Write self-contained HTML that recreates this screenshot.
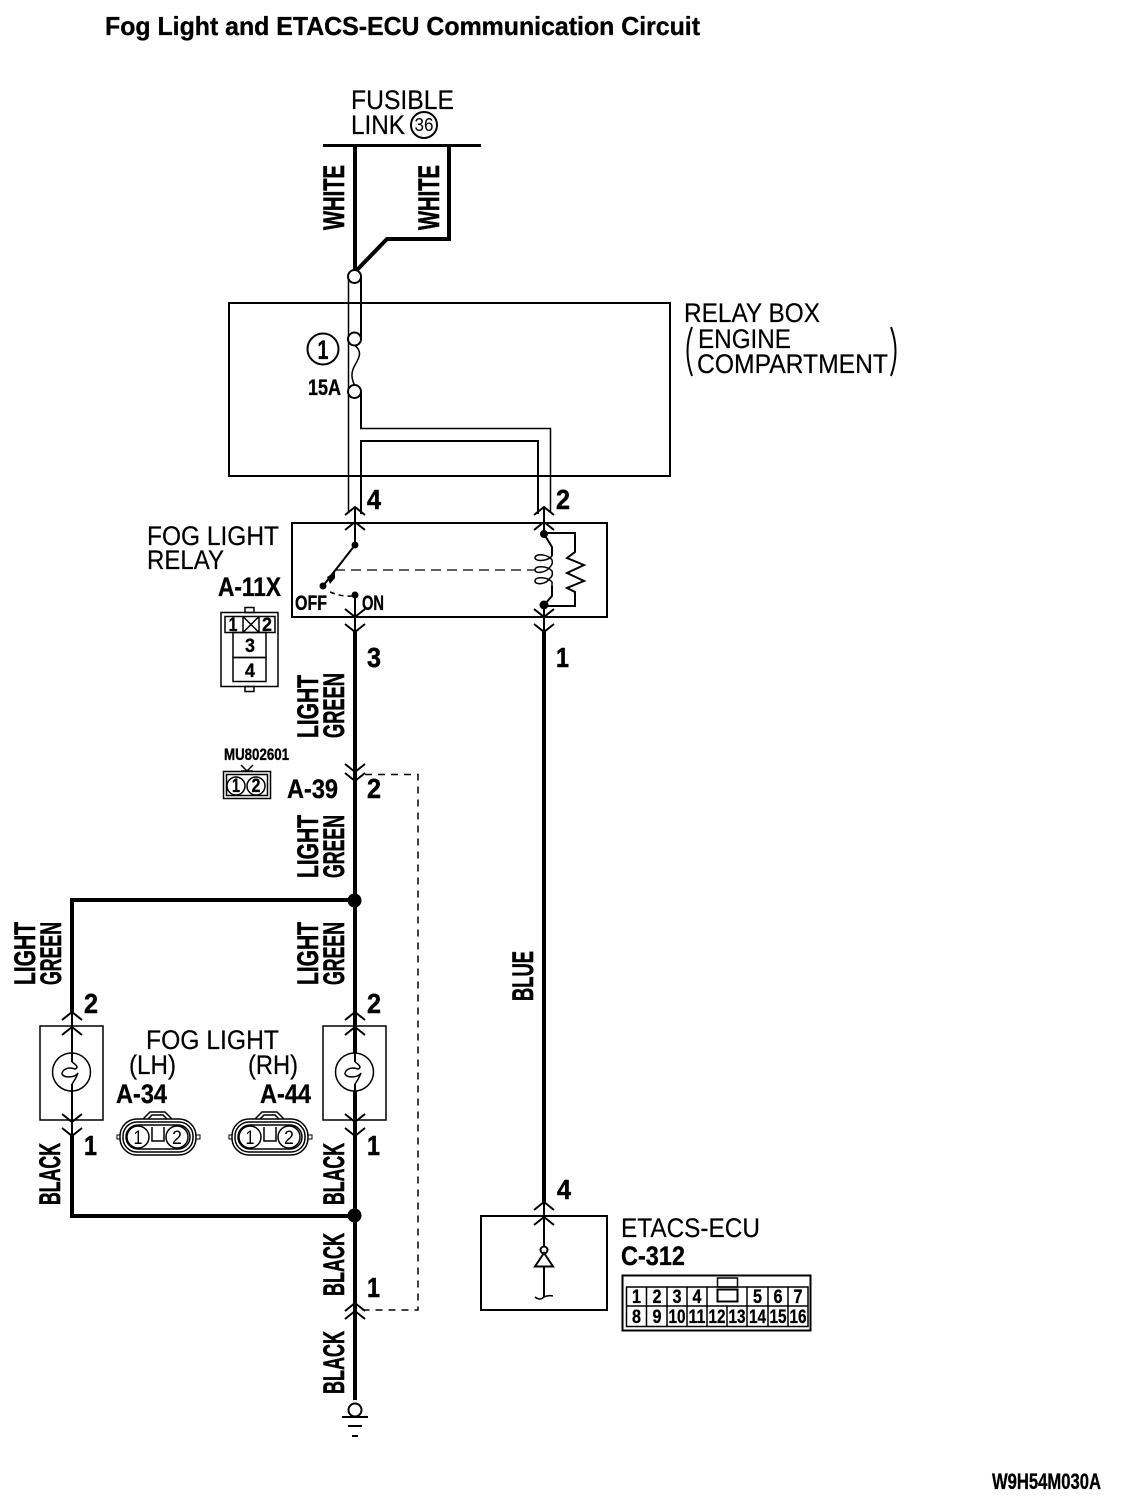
<!DOCTYPE html>
<html><head><meta charset="utf-8"><title>Fog Light and ETACS-ECU Communication Circuit</title>
<style>
html,body{margin:0;padding:0;background:#fff}
svg{display:block}
text{font-family:"Liberation Sans",sans-serif;fill:#000}
.r{font-size:27px;stroke:#000;stroke-width:.2}
.b{font-weight:bold;stroke:#000;stroke-width:.35}
.w{font-weight:bold;font-size:30px;stroke:#000;stroke-width:.6}
.n{font-weight:bold;font-size:28px;stroke:#000;stroke-width:.5}
.s{font-weight:bold;font-size:19px;text-anchor:middle;stroke:#000;stroke-width:.3}
.l{fill:none;stroke:#000;stroke-width:2}
.t{fill:none;stroke:#000;stroke-width:1.5}
.k{fill:none;stroke:#000;stroke-width:4}
.c{fill:#fff;stroke:#000;stroke-width:2}
.d{fill:#000;stroke:none}
</style></head><body>
<svg width="1136" height="1500" viewBox="0 0 1136 1500" xmlns="http://www.w3.org/2000/svg">
<defs>
<path id="up" d="M-10 8L0 0L10 8" fill="none" stroke="#000" stroke-width="2"/>
<path id="dn" d="M-10 -8L0 0L10 -8" fill="none" stroke="#000" stroke-width="2"/>
<g id="plug">
<rect x="120" y="1119" width="76" height="36" rx="17" fill="none" stroke="#000" stroke-width="1.5"/>
<rect x="123" y="1122" width="70" height="30" rx="14" fill="none" stroke="#000" stroke-width="1.5"/>
<rect x="126" y="1125" width="64" height="24" rx="12" fill="none" stroke="#000" stroke-width="1.5"/>
<circle cx="138" cy="1137" r="11" fill="#fff" stroke="#000" stroke-width="1.5"/>
<circle cx="177" cy="1137" r="11" fill="#fff" stroke="#000" stroke-width="1.5"/>
<path d="M152 1127V1141H164V1127" fill="none" stroke="#000" stroke-width="1.5"/>
<path d="M143 1119L150 1112H165L172 1119M148 1119L152 1115H163L167 1119" fill="none" stroke="#000" stroke-width="1.5"/>
<rect x="117" y="1135" width="3" height="4" fill="none" stroke="#000" stroke-width="1"/>
<rect x="196" y="1135" width="4" height="4" fill="none" stroke="#000" stroke-width="1"/>
</g>
</defs>

<text class="b" x="105" y="35" font-size="26" textLength="595" lengthAdjust="spacingAndGlyphs">Fog Light and ETACS-ECU Communication Circuit</text>

<text class="r" x="351" y="109" textLength="103" lengthAdjust="spacingAndGlyphs">FUSIBLE</text>
<text class="r" x="351" y="134" textLength="54" lengthAdjust="spacingAndGlyphs">LINK</text>
<circle cx="424" cy="125" r="13" fill="none" stroke="#000" stroke-width="2"/>
<text x="424" y="131" font-size="18" text-anchor="middle" textLength="19" lengthAdjust="spacingAndGlyphs">36</text>

<path d="M323 145.500H481" stroke="#000" stroke-width="3" fill="none"/>
<path class="k" d="M355 145V272L387 239H449V145"/>

<rect x="229" y="303" width="441" height="173" fill="none" stroke="#000" stroke-width="2"/>
<text class="r" x="684" y="322" textLength="136" lengthAdjust="spacingAndGlyphs">RELAY BOX</text>
<text class="r" x="698" y="348" textLength="93" lengthAdjust="spacingAndGlyphs">ENGINE</text>
<text class="r" x="697" y="373" textLength="191" lengthAdjust="spacingAndGlyphs">COMPARTMENT</text>
<path d="M692 327Q683 351 692 376M891 327Q900 351 891 376" fill="none" stroke="#000" stroke-width="2"/>

<path class="t" d="M348.500 276V513"/>
<path class="l" d="M361 276V339"/>
<path class="l" d="M361 392V428.500"/>
<path class="t" d="M360 428.500H550.500V513"/>
<path class="l" d="M361 514V441H538V514"/>
<circle class="c" cx="354.500" cy="276.500" r="6.500"/>
<circle class="c" cx="354.500" cy="339" r="6.500"/>
<circle class="c" cx="354.500" cy="391.500" r="6.500"/>
<path class="t" d="M354.500 345C363 352 359 358 355 365C351 372 351 378 354.500 385"/>
<circle cx="323" cy="349" r="15.500" fill="none" stroke="#000" stroke-width="2"/>
<text class="b" x="323" y="359" font-size="27" text-anchor="middle" textLength="11" lengthAdjust="spacingAndGlyphs">1</text>
<text class="b" x="308" y="395" font-size="22" textLength="33" lengthAdjust="spacingAndGlyphs">15A</text>

<text class="w" transform="translate(344 230) rotate(-90)" textLength="65" lengthAdjust="spacingAndGlyphs">WHITE</text>
<text class="w" transform="translate(439 230) rotate(-90)" textLength="65" lengthAdjust="spacingAndGlyphs">WHITE</text>

<!-- relay -->
<rect x="292" y="523" width="315" height="94" fill="none" stroke="#000" stroke-width="2"/>
<text class="n" x="367" y="509" textLength="14" lengthAdjust="spacingAndGlyphs">4</text>
<text class="n" x="556" y="509" textLength="14" lengthAdjust="spacingAndGlyphs">2</text>
<text class="r" x="147" y="545" textLength="132" lengthAdjust="spacingAndGlyphs">FOG LIGHT</text>
<text class="r" x="147" y="569" textLength="77" lengthAdjust="spacingAndGlyphs">RELAY</text>
<text class="b" x="218" y="596" font-size="27" textLength="63" lengthAdjust="spacingAndGlyphs">A-11X</text>

<use href="#up" x="355" y="507"/><use href="#up" x="355" y="522"/>
<path class="l" d="M355 507V545"/>
<circle class="d" cx="355" cy="545" r="3.500"/>
<path class="l" d="M355 545L323 586"/>
<path class="d" d="M335 572L327 577L330 584L335 578Z"/>
<circle class="d" cx="323" cy="586" r="3.500"/>
<path d="M330 592Q342 597 352 596" fill="none" stroke="#000" stroke-width="1.500" stroke-dasharray="5 4"/>
<circle class="d" cx="355" cy="595" r="3.500"/>
<path d="M335 570H535" fill="none" stroke="#000" stroke-width="1.300" stroke-dasharray="10 6"/>
<text class="b" x="295" y="610" font-size="21" textLength="32" lengthAdjust="spacingAndGlyphs">OFF</text>
<text class="b" x="362" y="610" font-size="21" textLength="22" lengthAdjust="spacingAndGlyphs">ON</text>
<path class="l" d="M355 595V632"/>
<use href="#dn" x="355" y="617"/><use href="#dn" x="355" y="632"/>

<!-- coil -->
<use href="#up" x="544" y="507"/><use href="#up" x="544" y="522"/>
<path class="l" d="M544 507V534"/>
<circle class="d" cx="544" cy="534" r="4"/>
<path class="l" d="M544 534L552 547V556"/>
<path class="t" d="M552 556C548 561 536 562 535 558C535 553 548 554 552 560C553 563 552 565 550 567C546 573 535 574 535 570C535 565 548 566 552 571C553 574 552 577 550 578C546 585 535 585 535 581C535 576 548 577 552 582V586"/>
<path class="l" d="M552 586V596L544 605"/>
<circle class="d" cx="544" cy="605" r="4.500"/>
<path class="l" d="M544 533H575V552L567 558L584 565L567 573L584 581L567 588L575 592V606H544"/>
<path class="l" d="M544 605V632"/>
<use href="#dn" x="544" y="617"/><use href="#dn" x="544" y="632"/>

<!-- A-11X connector -->
<rect x="221" y="612.500" width="57" height="74" fill="none" stroke="#000" stroke-width="1.500"/>
<rect x="245" y="607.500" width="9" height="5" fill="none" stroke="#000" stroke-width="1.500"/>
<rect x="245" y="686.500" width="9" height="5" fill="none" stroke="#000" stroke-width="1.500"/>
<rect x="225" y="616.500" width="50" height="16" fill="none" stroke="#000" stroke-width="1.500"/>
<path class="t" d="M243 616.500V632.500M259 616.500V632.500M243 616.500L259 632.500M259 616.500L243 632.500"/>
<rect x="233" y="632.500" width="33" height="25" fill="none" stroke="#000" stroke-width="1.500"/>
<rect x="233" y="657.500" width="33" height="24" fill="none" stroke="#000" stroke-width="1.500"/>
<text class="s" x="233" y="631" font-size="18" textLength="9" lengthAdjust="spacingAndGlyphs">1</text>
<text class="s" x="267" y="631" font-size="18" textLength="10" lengthAdjust="spacingAndGlyphs">2</text>
<text class="s" x="250" y="652" textLength="10" lengthAdjust="spacingAndGlyphs">3</text>
<text class="s" x="250" y="677" textLength="10" lengthAdjust="spacingAndGlyphs">4</text>

<!-- main wires -->
<path class="k" d="M355 632V1400"/>
<path class="k" d="M544 632V1202"/>
<path class="k" d="M355 900H72V1012"/>
<path class="k" d="M355 1216H72V1136"/>
<text class="n" x="367" y="667" textLength="14" lengthAdjust="spacingAndGlyphs">3</text>
<text class="n" x="556" y="667" textLength="13" lengthAdjust="spacingAndGlyphs">1</text>

<text class="w" transform="translate(318 738) rotate(-90)" textLength="63" lengthAdjust="spacingAndGlyphs">LIGHT</text>
<text class="w" transform="translate(344 738) rotate(-90)" textLength="65" lengthAdjust="spacingAndGlyphs">GREEN</text>
<text class="w" transform="translate(318 878) rotate(-90)" textLength="63" lengthAdjust="spacingAndGlyphs">LIGHT</text>
<text class="w" transform="translate(344 878) rotate(-90)" textLength="63" lengthAdjust="spacingAndGlyphs">GREEN</text>
<text class="w" transform="translate(318 985) rotate(-90)" textLength="63" lengthAdjust="spacingAndGlyphs">LIGHT</text>
<text class="w" transform="translate(344 985) rotate(-90)" textLength="63" lengthAdjust="spacingAndGlyphs">GREEN</text>
<text class="w" transform="translate(35 985) rotate(-90)" textLength="63" lengthAdjust="spacingAndGlyphs">LIGHT</text>
<text class="w" transform="translate(61 985) rotate(-90)" textLength="63" lengthAdjust="spacingAndGlyphs">GREEN</text>
<text class="w" transform="translate(60 1205) rotate(-90)" textLength="62" lengthAdjust="spacingAndGlyphs">BLACK</text>
<text class="w" transform="translate(344 1205) rotate(-90)" textLength="62" lengthAdjust="spacingAndGlyphs">BLACK</text>
<text class="w" transform="translate(344 1296) rotate(-90)" textLength="63" lengthAdjust="spacingAndGlyphs">BLACK</text>
<text class="w" transform="translate(344 1394) rotate(-90)" textLength="63" lengthAdjust="spacingAndGlyphs">BLACK</text>
<text class="w" transform="translate(533 1001) rotate(-90)" textLength="50" lengthAdjust="spacingAndGlyphs">BLUE</text>

<!-- A-39 -->
<use href="#dn" x="355" y="772"/><use href="#dn" x="355" y="781"/>
<path d="M365 774.500H418V1310H360" fill="none" stroke="#000" stroke-width="1.500" stroke-dasharray="7 6"/>
<text class="n" x="367" y="798" textLength="14" lengthAdjust="spacingAndGlyphs">2</text>
<text class="b" x="287" y="798" font-size="27" textLength="51" lengthAdjust="spacingAndGlyphs">A-39</text>
<text class="b" x="224" y="760" font-size="17" textLength="65" lengthAdjust="spacingAndGlyphs">MU802601</text>
<rect x="223.500" y="771.500" width="47" height="27" fill="none" stroke="#000" stroke-width="1.500"/>
<rect x="226.500" y="774.500" width="41" height="21" fill="none" stroke="#000" stroke-width="1.500"/>
<path class="t" d="M241 765L247 771L253 765M241 771L253 771"/>
<circle cx="236" cy="786" r="9" fill="#fff" stroke="#000" stroke-width="1.500"/>
<circle cx="256" cy="786" r="9" fill="#fff" stroke="#000" stroke-width="1.500"/>
<text class="s" x="236" y="792" font-size="18" textLength="8" lengthAdjust="spacingAndGlyphs">1</text>
<text class="s" x="256" y="792" font-size="18" textLength="9" lengthAdjust="spacingAndGlyphs">2</text>

<circle class="d" cx="354.500" cy="900.500" r="7"/>
<circle class="d" cx="354.500" cy="1215.500" r="7"/>

<!-- fog lights -->
<rect x="40" y="1026" width="63" height="94" fill="none" stroke="#000" stroke-width="1.500"/>
<rect x="323" y="1026" width="63" height="94" fill="none" stroke="#000" stroke-width="1.500"/>
<g id="lampL">
<circle cx="71.500" cy="1072" r="19" fill="#fff" stroke="#000" stroke-width="1.500"/>
<path class="l" d="M72 1012V1062M72 1084V1136"/>
<path class="t" d="M72 1062C78 1066 78 1068 75 1069C66 1066 62 1071 62 1074C64 1078 75 1078 78 1073C76 1078 75 1080 72 1084"/>
<use href="#up" x="72" y="1012"/><use href="#up" x="72" y="1027"/>
<use href="#dn" x="72" y="1122"/><use href="#dn" x="72" y="1136"/>
</g>
<use href="#lampL" x="283"/>

<text class="n" x="84" y="1013" textLength="14" lengthAdjust="spacingAndGlyphs">2</text>
<text class="n" x="367" y="1013" textLength="14" lengthAdjust="spacingAndGlyphs">2</text>
<text class="n" x="84" y="1155" textLength="13" lengthAdjust="spacingAndGlyphs">1</text>
<text class="n" x="367" y="1155" textLength="13" lengthAdjust="spacingAndGlyphs">1</text>

<text class="r" x="146" y="1049" textLength="133" lengthAdjust="spacingAndGlyphs">FOG LIGHT</text>
<text class="r" x="129" y="1074" textLength="47" lengthAdjust="spacingAndGlyphs">(LH)</text>
<text class="r" x="248" y="1074" textLength="50" lengthAdjust="spacingAndGlyphs">(RH)</text>
<text class="b" x="116" y="1103" font-size="27" textLength="51" lengthAdjust="spacingAndGlyphs">A-34</text>
<text class="b" x="260" y="1103" font-size="27" textLength="51" lengthAdjust="spacingAndGlyphs">A-44</text>
<use href="#plug"/>
<use href="#plug" x="112"/>
<text x="138" y="1144" font-size="19" text-anchor="middle" textLength="9" lengthAdjust="spacingAndGlyphs">1</text>
<text x="177" y="1144" font-size="19" text-anchor="middle" textLength="10" lengthAdjust="spacingAndGlyphs">2</text>
<text x="250" y="1144" font-size="19" text-anchor="middle" textLength="9" lengthAdjust="spacingAndGlyphs">1</text>
<text x="289" y="1144" font-size="19" text-anchor="middle" textLength="10" lengthAdjust="spacingAndGlyphs">2</text>

<!-- lower junction / ground -->
<use href="#up" x="355" y="1303"/><use href="#up" x="355" y="1311"/>
<text class="n" x="367" y="1297" textLength="13" lengthAdjust="spacingAndGlyphs">1</text>
<circle class="c" cx="355" cy="1410" r="6.500"/>
<path class="l" d="M342 1417H368M348 1426H362"/>
<path class="l" d="M352 1436H358"/>

<!-- ETACS -->
<rect x="481" y="1216" width="126" height="94" fill="none" stroke="#000" stroke-width="2"/>
<text class="n" x="557" y="1199" textLength="14" lengthAdjust="spacingAndGlyphs">4</text>
<use href="#up" x="544" y="1202"/><use href="#up" x="544" y="1217"/>
<path class="l" d="M544 1202V1247M544 1267V1297"/>
<circle class="c" cx="544" cy="1250" r="3.500"/>
<path class="l" d="M544 1253L535 1266.500H553Z"/>
<path class="t" d="M535 1297Q540 1301 544 1297Q548 1295 553 1296"/>
<text class="r" x="621" y="1237" textLength="139" lengthAdjust="spacingAndGlyphs">ETACS-ECU</text>
<text class="b" x="621" y="1265" font-size="27" textLength="64" lengthAdjust="spacingAndGlyphs">C-312</text>

<rect x="622.500" y="1275.500" width="188" height="55" fill="none" stroke="#000" stroke-width="2"/>
<path class="t" d="M626.500 1287H808V1326.500H626.500ZM626.500 1306H808"/>
<path class="t" d="M646.500 1287V1326.500M667 1287V1326.500M687 1287V1326.500M707 1287V1326.500M727 1306V1326.500M747 1287V1326.500M768 1287V1326.500M788 1287V1326.500"/>
<rect x="717.500" y="1278" width="20" height="9" fill="none" stroke="#000" stroke-width="1.500"/>
<rect x="717.500" y="1289.500" width="20" height="12" fill="none" stroke="#000" stroke-width="2"/>
<g class="cells">
<text class="s" x="636.500" y="1303" textLength="9" lengthAdjust="spacingAndGlyphs">1</text>
<text class="s" x="657" y="1303" textLength="9" lengthAdjust="spacingAndGlyphs">2</text>
<text class="s" x="677" y="1303" textLength="9" lengthAdjust="spacingAndGlyphs">3</text>
<text class="s" x="697" y="1303" textLength="9" lengthAdjust="spacingAndGlyphs">4</text>
<text class="s" x="757.500" y="1303" textLength="9" lengthAdjust="spacingAndGlyphs">5</text>
<text class="s" x="778" y="1303" textLength="9" lengthAdjust="spacingAndGlyphs">6</text>
<text class="s" x="798" y="1303" textLength="9" lengthAdjust="spacingAndGlyphs">7</text>
<text class="s" x="636.500" y="1323" textLength="9" lengthAdjust="spacingAndGlyphs">8</text>
<text class="s" x="657" y="1323" textLength="9" lengthAdjust="spacingAndGlyphs">9</text>
<text class="s" x="677" y="1323" textLength="17" lengthAdjust="spacingAndGlyphs">10</text>
<text class="s" x="697" y="1323" textLength="17" lengthAdjust="spacingAndGlyphs">11</text>
<text class="s" x="717" y="1323" textLength="17" lengthAdjust="spacingAndGlyphs">12</text>
<text class="s" x="737" y="1323" textLength="17" lengthAdjust="spacingAndGlyphs">13</text>
<text class="s" x="757.500" y="1323" textLength="17" lengthAdjust="spacingAndGlyphs">14</text>
<text class="s" x="778" y="1323" textLength="17" lengthAdjust="spacingAndGlyphs">15</text>
<text class="s" x="798" y="1323" textLength="17" lengthAdjust="spacingAndGlyphs">16</text>
</g>

<text class="b" x="992" y="1489" font-size="22" textLength="109" lengthAdjust="spacingAndGlyphs">W9H54M030A</text>
</svg>
</body></html>
